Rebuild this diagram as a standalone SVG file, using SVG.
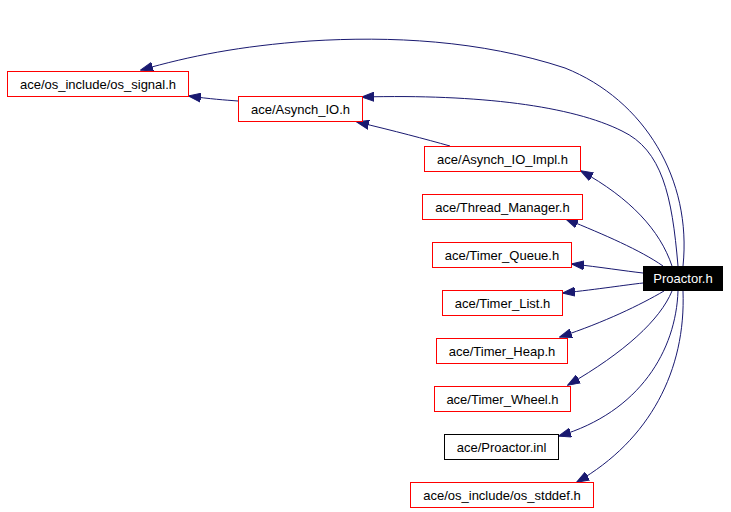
<svg xmlns="http://www.w3.org/2000/svg" width="731" height="512" viewBox="0 0 731 512">
<style>
.n rect{fill:#fff;stroke:#ff0000;stroke-width:1}
.n.b rect{stroke:#000}
.n.r rect{fill:#000;stroke:#000}
.n text{font-family:"Liberation Sans",Arial,sans-serif;font-size:13px;text-anchor:middle;fill:#000}
.n.r text{fill:#fff}
.e path{fill:none;stroke:#191970;stroke-width:1}
</style>
<defs>
<marker id="ah" viewBox="0 0 13 10" refX="12" refY="5" markerWidth="13" markerHeight="10" markerUnits="userSpaceOnUse" orient="auto">
<path d="M0,0.5 L12.5,5 L0,9.5 Z" fill="#191970" stroke="#191970"/>
</marker>
</defs>
<rect width="731" height="512" fill="#fff"/>
<g class="e">
<path marker-end="url(#ah)" d="M683,266 C692,180 645,100 565,68 C480,40 390,36 310,41 C240,46 190,56 141,70"/>
<path marker-end="url(#ah)" d="M678,266 C672,195 662,150 622,131 C572,106 480,94 362,97"/>
<path marker-end="url(#ah)" d="M450,146 C425,139 395,131 357,122"/>
<path marker-end="url(#ah)" d="M238,101 C225,100 210,99 189,96"/>
<path marker-end="url(#ah)" d="M672,266 C660,230 630,198 581,171"/>
<path marker-end="url(#ah)" d="M663,266 C640,250 605,235 566,219"/>
<path marker-end="url(#ah)" d="M643,273 C625,271 600,267 572,264"/>
<path marker-end="url(#ah)" d="M643,283 C625,285 600,289 563,293"/>
<path marker-end="url(#ah)" d="M664,291 C640,305 605,322 560,337"/>
<path marker-end="url(#ah)" d="M672,291 C660,320 625,352 568,385"/>
<path marker-end="url(#ah)" d="M678,291 C676,350 640,412 559,436"/>
<path marker-end="url(#ah)" d="M683,291 C686,370 650,440 577,482"/>
</g>
<g id="os_signal" class="n"><rect x="7.5" y="71.5" width="181" height="25"/><text x="98" y="88.5">ace/os_include/os_signal.h</text></g>
<g id="asynch_io" class="n"><rect x="238.5" y="96.5" width="124" height="25"/><text x="300.5" y="113.5">ace/Asynch_IO.h</text></g>
<g id="asynch_io_impl" class="n"><rect x="424.5" y="146.5" width="156" height="25"/><text x="502.5" y="163.5">ace/Asynch_IO_Impl.h</text></g>
<g id="thread_manager" class="n"><rect x="422.5" y="194.5" width="160" height="25"/><text x="502.5" y="211.5">ace/Thread_Manager.h</text></g>
<g id="timer_queue" class="n"><rect x="432.5" y="242.5" width="139" height="25"/><text x="502" y="259.5">ace/Timer_Queue.h</text></g>
<g id="proactor_h" class="n r"><rect x="643.5" y="266.5" width="79" height="24"/><text x="683" y="283">Proactor.h</text></g>
<g id="timer_list" class="n"><rect x="442.5" y="290.5" width="120" height="25"/><text x="502.5" y="307.5">ace/Timer_List.h</text></g>
<g id="timer_heap" class="n"><rect x="436.5" y="338.5" width="131" height="25"/><text x="502" y="355.5">ace/Timer_Heap.h</text></g>
<g id="timer_wheel" class="n"><rect x="434.5" y="386.5" width="136" height="25"/><text x="502.5" y="403.5">ace/Timer_Wheel.h</text></g>
<g id="proactor_inl" class="n b"><rect x="444.5" y="434.5" width="114" height="25"/><text x="501.5" y="451.5">ace/Proactor.inl</text></g>
<g id="os_stddef" class="n"><rect x="410.5" y="482.5" width="183" height="25"/><text x="502" y="499.5">ace/os_include/os_stddef.h</text></g>
</svg>
